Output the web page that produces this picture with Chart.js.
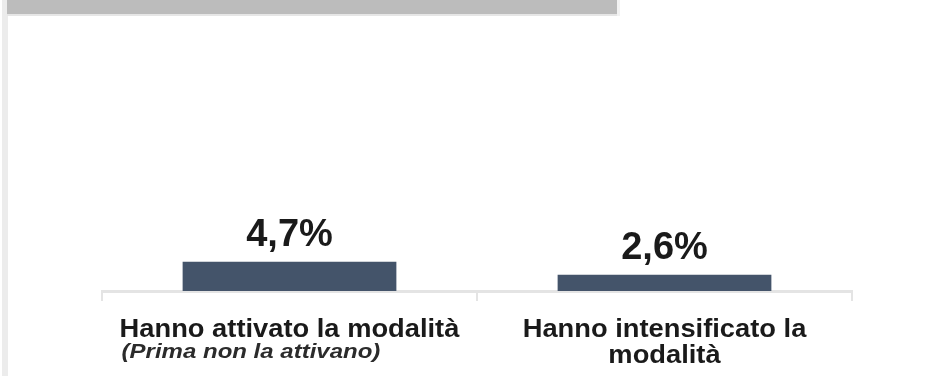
<!DOCTYPE html>
<html>
<head>
<meta charset="utf-8">
<script src="https://cdn.jsdelivr.net/npm/chart.js@4.4.1/dist/chart.umd.min.js"></script>
<style>
  html, body { margin: 0; padding: 0; background: #fff; }
  #wrap { position: relative; width: 952px; height: 376px; overflow: hidden; }
  #side { position: absolute; left: 2px; top: 0; width: 6px; height: 376px; background: #ececec; }
  #head { position: absolute; left: 7px; top: 0; width: 610px; height: 14px; background: #bcbcbc; border-bottom: 2px solid #e6e6e6; }
  #head-edge { position: absolute; left: 617px; top: 0; width: 3px; height: 16px; background: #f2f2f2; }
  canvas { position: absolute; left: 0; top: 0; }
</style>
</head>
<body>
<div id="wrap">
  <canvas id="chart" width="952" height="376"></canvas>
  <div id="side"></div>
  <div id="head"></div>
  <div id="head-edge"></div>
</div>
<script>
// data
var categories = [
    ["Hanno attivato la modalità"],
    ["Hanno intensificato la", "modalità"]
];
var notes = ["(Prima non la attivano)", ""];
var values = [4.7, 2.6];

var barColor = "#44546A";
var textColor = "#1a1a1a";

function fmt(v) {
    return v.toFixed(1).replace(".", ",") + "%";
}

// draws the value above each bar and the category text under the axis
var labelsPlugin = {
    id: 'labels',
    afterDatasetsDraw: function(chart) {
        var ctx = chart.ctx;
        var meta = chart.getDatasetMeta(0);
        var xScale = chart.scales.x;
        var base = chart.chartArea.bottom;
        ctx.save();
        ctx.fillStyle = textColor;
        meta.data.forEach(function(bar, i) {
            ctx.textAlign = 'center';
            ctx.textBaseline = 'alphabetic';
            ctx.font = "bold 38px 'Liberation Sans', Arial, sans-serif";
            ctx.fillText(fmt(values[i]), bar.x, bar.y - 16);

            var cx = xScale.getPixelForValue(i);
            var lines = categories[i];
            var stretch = 1.05;
            ctx.font = "bold 26px 'Liberation Sans', Arial, sans-serif";
            var firstW = ctx.measureText(lines[0]).width * stretch;
            lines.forEach(function(line, j) {
                ctx.save();
                ctx.translate(cx, base + 46 + j * 26);
                ctx.scale(stretch, 1);
                ctx.textAlign = 'center';
                ctx.fillText(line, 0, 0);
                ctx.restore();
            });
            if (notes[i]) {
                ctx.save();
                ctx.font = "italic bold 20px 'Liberation Sans', Arial, sans-serif";
                ctx.fillStyle = "#2b2b2b";
                ctx.translate(cx - firstW / 2 + 2, base + 67);
                ctx.scale(1.2, 1);
                ctx.textAlign = 'left';
                ctx.fillText(notes[i], 0, 0);
                ctx.restore();
            }
        });
        ctx.restore();
    }
};

var ctx = document.getElementById('chart');
var myChart = new Chart(ctx, {
    type: 'bar',
    data: {
        labels: categories.map(function(c) { return c.join(" "); }),
        datasets: [{
            data: values,
            backgroundColor: barColor,
            borderWidth: 0,
            barPercentage: 0.57,
            categoryPercentage: 1
        }]
    },
    options: {
        responsive: false,
        animation: false,
        devicePixelRatio: 1,
        layout: {
            padding: { left: 102, right: 100, top: 30, bottom: 75 }
        },
        plugins: {
            legend: { display: false },
            tooltip: { enabled: false },
            title: { display: false }
        },
        scales: {
            x: {
                ticks: { display: false },
                grid: {
                    drawOnChartArea: false,
                    color: "#e4e4e4",
                    lineWidth: 2,
                    tickLength: 10
                },
                border: { color: "#e4e4e4", width: 3 }
            },
            y: {
                display: false,
                min: 0,
                max: 42
            }
        }
    },
    plugins: [labelsPlugin]
});
</script>
</body>
</html>
